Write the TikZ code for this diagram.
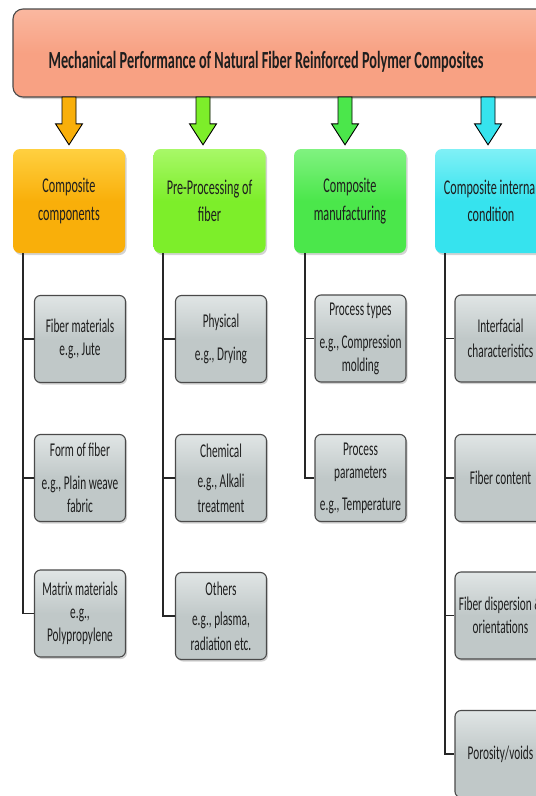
\documentclass[tikz,border=0pt]{standalone}
\usepackage{fontspec}
\setmainfont{Carlito}[FakeStretch=0.58]
\usetikzlibrary{shadows,calc}

\definecolor{titlefill}{HTML}{F8A183}
\definecolor{titletop}{HTML}{FAB8A0}
\definecolor{frame}{HTML}{4A4A4A}
\definecolor{txt}{HTML}{1E1E1E}
\definecolor{orangeA}{HTML}{F9AF0A}
\definecolor{orangeT}{HTML}{FFD040}
\definecolor{limeA}{HTML}{7DEE2A}
\definecolor{limeT}{HTML}{A8F868}
\definecolor{greenA}{HTML}{4BE74B}
\definecolor{greenT}{HTML}{80F280}
\definecolor{cyanA}{HTML}{36E3EE}
\definecolor{cyanT}{HTML}{80F0F6}
\definecolor{grayA}{HTML}{C0C8C8}
\definecolor{grayT}{HTML}{E0E5E5}

% block arrow from a start point down to an end point
\newcommand\blockarrow[3]{%
  \draw[arrowbody, fill=#3] let \p1=(#1), \p2=(#2) in
    (\x1-7pt,\y1) -- (\x1+7pt,\y1) -- (\x1+7pt,\y2+21pt) -- (\x1+13.5pt,\y2+21pt)
    -- (\x1,\y2) -- (\x1-13.5pt,\y2+21pt) -- (\x1-7pt,\y2+21pt) -- cycle;}

\begin{document}
\begin{tikzpicture}[x=1pt,y=-1pt,
  softshadow/.style={drop shadow={opacity=0.35, shadow xshift=1.5pt, shadow yshift=-2pt}},
  titlebox/.style={draw=frame, line width=1.1pt, rounded corners=10pt,
    top color=titletop, bottom color=titlefill, middle color=titlefill,
    minimum width=557pt, minimum height=88pt, softshadow},
  catbox/.style={rounded corners=7pt, minimum width=112pt, minimum height=104pt,
    align=center, text=txt, font=\fontsize{21}{26}\selectfont, softshadow},
  subbox/.style={draw=frame, line width=1.1pt, rounded corners=6pt,
    minimum width=91pt, minimum height=87pt, top color=grayT, bottom color=grayA,
    middle color=grayA, align=center, text=txt,
    font=\fontsize{19.5}{23}\selectfont, softshadow},
  arrowbody/.style={draw=black, line width=0.9pt, line join=miter},
  conn/.style={draw=black!85, line width=1.3pt}]

\useasboundingbox (0,0) rectangle (536,796);
\clip (0,0) rectangle (536,796);

% heading
\node[titlebox] (title) at (291.5,53) {};
\node[text=txt, font=\bfseries\fontsize{24.6}{28}\selectfont] (titletext) at (266,62)
  {Mechanical Performance of Natural Fiber Reinforced Polymer Composites};

% category boxes
\node[catbox, top color=orangeT, bottom color=orangeA, middle color=orangeA] (c1) at (69,201)
  {Composite\\[1.5pt]components};
\node[catbox, top color=limeT, bottom color=limeA, middle color=limeA] (c2) at (209.5,201)
  {Pre-Processing of\\[1.5pt]fiber};
\node[catbox, top color=greenT, bottom color=greenA, middle color=greenA] (c3) at (350,201)
  {Composite\\[1.5pt]manufacturing};
\node[catbox, top color=cyanT, bottom color=cyanA, middle color=cyanA] (c4) at (491,201)
  {Composite internal\\[1pt]condition};

% arrows from the heading to each category
\foreach \k/\x/\col in {1/69/orangeA, 2/203/limeA, 3/345/greenA, 4/488/cyanA}{
  \coordinate (a\k) at (\x,97);
  \coordinate (e\k) at ($(a\k |- c\k.north)+(0,-4)$);
  \blockarrow{a\k}{e\k}{\col}
}

% sub-topic boxes
\node[subbox] (s11) at (80,339) {Fiber materials\\e.g., Jute};
\node[subbox] (s12) at (80,478) {Form of fiber\\[10pt]e.g., Plain weave\\fabric};
\node[subbox] (s13) at (80,613.5) {Matrix materials\\e.g.,\\Polypropylene};

\node[subbox] (s21) at (221,339) {Physical\\[10pt]e.g., Drying};
\node[subbox] (s22) at (221,478) {Chemical\\[7pt]e.g., Alkali\\[2pt]treatment};
\node[subbox] (s23) at (221,616) {Others\\[7pt]e.g., plasma,\\[2pt]radiation etc.};

\node[subbox] (s31) at (360.5,338.5) {Process types\\[10pt]e.g., Compression\\molding};
\node[subbox] (s32) at (360.5,478) {Process\\parameters\\[9pt]e.g., Temperature};

\node[subbox] (s41) at (500.5,338.5) {Interfacial\\[2pt]characteristics};
\node[subbox] (s42) at (500.5,478) {Fiber content};
\node[subbox] (s43) at (500.5,615.5) {Fiber dispersion \&\\orientations};
\node[subbox] (s44) at (500.5,754) {Porosity/voids};

% tree connectors
\coordinate (v1) at (23,253);
\coordinate (v2) at (163,253);
\coordinate (v3) at (305,253);
\coordinate (v4) at (445,253);
\foreach \s in {s11,s12,s13} \draw[conn] (v1) |- (\s.west);
\foreach \s in {s21,s22,s23} \draw[conn] (v2) |- (\s.west);
\foreach \s in {s31,s32} \draw[conn] (v3) |- (\s.west);
\foreach \s in {s41,s42,s43,s44} \draw[conn] (v4) |- (\s.west);

\end{tikzpicture}
\end{document}
